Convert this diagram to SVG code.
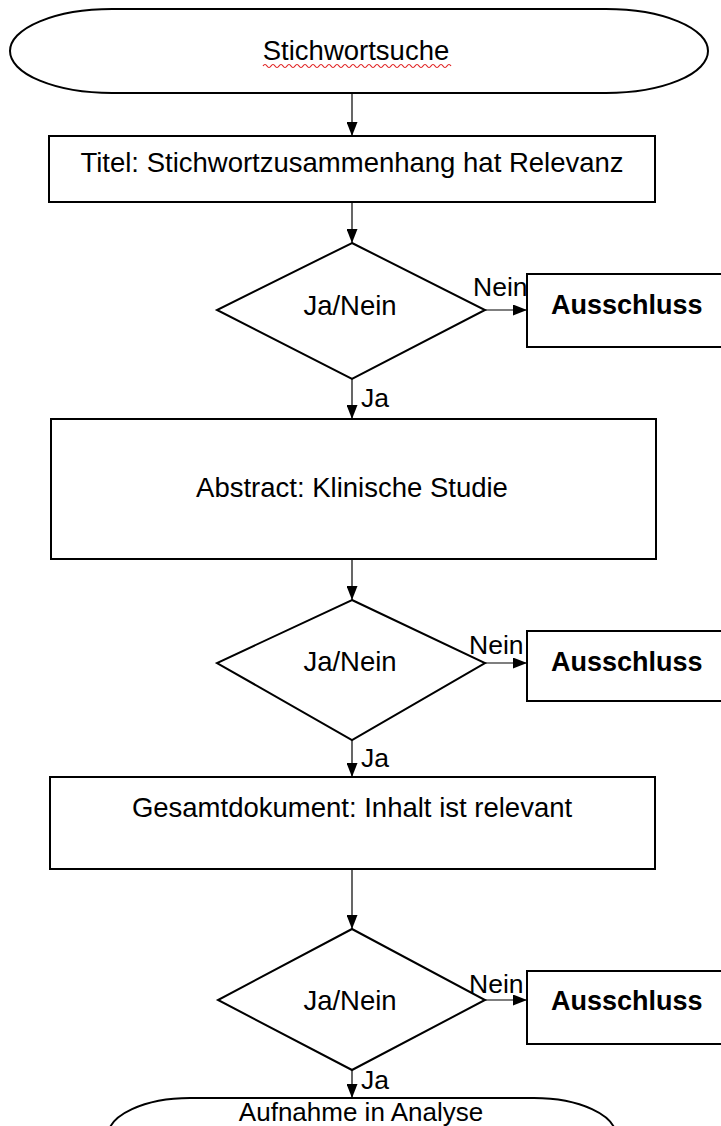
<svg xmlns="http://www.w3.org/2000/svg" width="721" height="1126" viewBox="0 0 721 1126">
<style>
.shape{fill:#fff;stroke:#000;stroke-width:2}
.conn{fill:none;stroke:#000;stroke-width:1.2}
.t{font-family:"Liberation Sans",Arial,sans-serif;font-size:27.5px;fill:#000}
.s{font-size:26.5px}
.c{text-anchor:middle}
.b{font-weight:bold;font-size:27px}
</style>
<defs>
<marker id="ah" markerUnits="userSpaceOnUse" markerWidth="14" markerHeight="11" refX="14" refY="5.5" orient="auto">
<path d="M0,0 L14,5.5 L0,11 Z" fill="#000"/>
</marker>
</defs>
<rect width="721" height="1126" fill="#fff"/>

<g id="start">
<path class="shape" d="M112,9 H606 A102 42 0 0 1 606 93 H112 A102 42 0 0 1 112 9 Z"/>
<text class="t c" x="356" y="60">Stichwortsuche</text>
<path d="M263,66 q2,-3 4,0 t4,0 t4,0 t4,0 t4,0 t4,0 t4,0 t4,0 t4,0 t4,0 t4,0 t4,0 t4,0 t4,0 t4,0 t4,0 t4,0 t4,0 t4,0 t4,0 t4,0 t4,0 t4,0 t4,0 t4,0 t4,0 t4,0 t4,0 t4,0 t4,0 t4,0 t4,0 t4,0 t4,0 t4,0 t4,0 t4,0 t4,0 t4,0 t4,0 t4,0 t4,0 t4,0 t4,0 t4,0 t4,0 t4,0" fill="none" stroke="#e02020" stroke-width="1.2"/>
</g>

<g id="titel">
<rect class="shape" x="49" y="136" width="606" height="66"/>
<text class="t c" x="352" y="172">Titel: Stichwortzusammenhang hat Relevanz</text>
</g>

<g id="d1">
<polygon class="shape" points="352,243 485,310 352,379 217,310"/>
<text class="t c" x="350" y="315">Ja/Nein</text>
</g>

<g id="x1">
<rect class="shape" x="527" y="274" width="210" height="73"/>
<text class="t b" x="551" y="314">Ausschluss</text>
</g>

<g id="abstract">
<rect class="shape" x="51" y="419" width="605" height="140"/>
<text class="t c" x="352" y="497">Abstract: Klinische Studie</text>
</g>

<g id="d2">
<polygon class="shape" points="352,600 485,663 352,740 217,663"/>
<text class="t c" x="350" y="671">Ja/Nein</text>
</g>

<g id="x2">
<rect class="shape" x="527" y="631" width="210" height="70"/>
<text class="t b" x="551" y="671">Ausschluss</text>
</g>

<g id="gesamt">
<rect class="shape" x="50" y="777" width="605" height="92"/>
<text class="t c" x="352" y="817">Gesamtdokument: Inhalt ist relevant</text>
</g>

<g id="d3">
<polygon class="shape" points="352,929 485,1000 352,1070 218,1000"/>
<text class="t c" x="350" y="1010">Ja/Nein</text>
</g>

<g id="x3">
<rect class="shape" x="527" y="971" width="210" height="73"/>
<text class="t b" x="551" y="1010">Ausschluss</text>
</g>

<g id="end">
<path class="shape" d="M190,1098 H534 A82 38 0 0 1 534 1174 H190 A82 38 0 0 1 190 1098 Z"/>
<text class="t c" x="361" y="1121" style="font-size:26px">Aufnahme in Analyse</text>
</g>

<g id="connectors">
<line class="conn" x1="352" y1="93" x2="352" y2="136" marker-end="url(#ah)"/>
<line class="conn" x1="352" y1="202" x2="352" y2="243" marker-end="url(#ah)"/>
<line class="conn" x1="485" y1="310" x2="527" y2="310" marker-end="url(#ah)"/>
<line class="conn" x1="352" y1="379" x2="352" y2="419" marker-end="url(#ah)"/>
<line class="conn" x1="352" y1="559" x2="352" y2="600" marker-end="url(#ah)"/>
<line class="conn" x1="485" y1="663" x2="527" y2="663" marker-end="url(#ah)"/>
<line class="conn" x1="352" y1="740" x2="352" y2="777" marker-end="url(#ah)"/>
<line class="conn" x1="352" y1="869" x2="352" y2="929" marker-end="url(#ah)"/>
<line class="conn" x1="485" y1="1000" x2="527" y2="1000" marker-end="url(#ah)"/>
<line class="conn" x1="352" y1="1070" x2="352" y2="1098" marker-end="url(#ah)"/>
<text class="t s" x="473" y="296">Nein</text>
<text class="t s" x="361" y="407">Ja</text>
<text class="t s" x="469" y="654">Nein</text>
<text class="t s" x="361" y="767">Ja</text>
<text class="t s" x="469" y="993">Nein</text>
<text class="t s" x="361" y="1089">Ja</text>
</g>
</svg>
